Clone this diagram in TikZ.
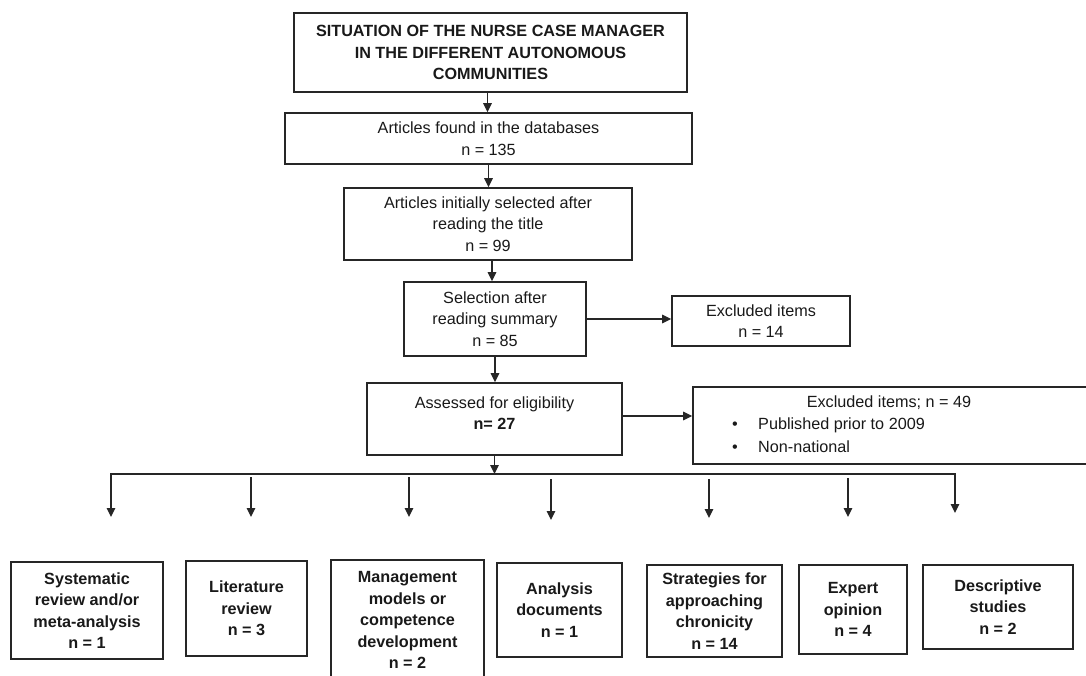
\documentclass[tikz,border=0pt]{standalone}
\usepackage{fontspec}
\setmainfont{Liberation Sans}
\usetikzlibrary{arrows.meta}
\begin{document}
\begin{tikzpicture}[x=1pt,y=-1pt,
  box/.style={draw=black!85, line width=1.6pt, align=center, inner sep=0pt,
    font=\fontsize{16.2}{21.5}\selectfont, text=black!90},
  bbox/.style={box, font=\fontsize{16.2}{21.5}\selectfont\bfseries},
  txt/.style={align=center, inner sep=0pt, font=\fontsize{16.2}{21.5}\selectfont, text=black!90},
  ln/.style={draw=black!85, line width=1.4pt},
  tip/.tip={Triangle[length=9pt,width=8.5pt]},
  arr/.style={ln, -tip}]
\useasboundingbox (0,0) rectangle (1086,675);
\clip (0,0) rectangle (1086,675);

% main column
\node[bbox, minimum width=393pt, minimum height=79pt] (title) at (490.5,52.5)
  {SITUATION OF THE NURSE CASE MANAGER\\IN THE DIFFERENT AUTONOMOUS\\COMMUNITIES};
\node[box, minimum width=407pt, minimum height=51pt] (found) at (488.5,138.5)
  {Articles found in the databases\\n = 135};
\node[box, minimum width=288pt, minimum height=72pt] (initial) at (488,224)
  {Articles initially selected after\\reading the title\\n = 99};
\node[box, minimum width=182pt, minimum height=74pt] (sel) at (495,319)
  {Selection after\\reading summary\\n = 85};
\node[box, minimum width=178pt, minimum height=50pt] (ex14) at (761,321)
  {Excluded items\\n = 14};
\node[box, minimum width=255pt, minimum height=72pt] (assess) at (494.5,419) {};
\node[txt] (assesstxt) at (494.5,413) {Assessed for eligibility\\\textbf{n= 27}};
\node[box, minimum width=395pt, minimum height=77pt] (ex49) at (890.5,425.5) {};
\node[txt] (ex49title) at (889,403) {Excluded items; n = 49};
\node[txt, anchor=west] (ex49a) at (732,425) {\makebox[26pt][l]{\textbullet}Published prior to 2009};
\node[txt, anchor=west] (ex49b) at (732,447) {\makebox[26pt][l]{\textbullet}Non-national};

% bottom categories
\node[bbox, minimum width=152pt, minimum height=97pt] (b1) at (87,610.5)
  {Systematic\\review and/or\\meta-analysis\\n = 1};
\node[bbox, minimum width=121pt, minimum height=95pt] (b2) at (246.5,608.5)
  {Literature\\review\\n = 3};
\node[bbox, minimum width=153pt, minimum height=120pt] (b3) at (407.5,620)
  {Management\\models or\\competence\\development\\n = 2};
\node[bbox, minimum width=125pt, minimum height=94pt] (b4) at (559.5,610)
  {Analysis\\documents\\n = 1};
\node[bbox, minimum width=135pt, minimum height=92pt] (b5) at (714.5,611)
  {Strategies for\\approaching\\chronicity\\n = 14};
\node[bbox, minimum width=108pt, minimum height=89pt] (b6) at (853,609.5)
  {Expert\\opinion\\n = 4};
\node[bbox, minimum width=150pt, minimum height=84pt] (b7) at (998,607)
  {Descriptive\\studies\\n = 2};

% connectors in the main column
\draw[arr] (title.south) ++(-3,0) coordinate (s1) -- (s1 |- found.north);
\draw[arr] (found.south) -- (found.south |- initial.north);
\draw[arr] (initial.south -| sel.north) ++(-3,0) coordinate (s3) -- (s3 |- sel.north);
\draw[arr] (sel.south) -- (sel.south |- assess.north);
\draw[arr] (sel.east) -- (sel.east -| ex14.west);
\draw[arr] (assess.east) ++(0,-3) coordinate (s5) -- (s5 -| ex49.west);

% branching
\coordinate (jl) at (111,474);
\coordinate (jr) at (955,474);
\coordinate (e1) at (111,517);
\coordinate (e7) at (955,513);
\draw[arr] (assess.south) -- (assess.south |- jl);
\draw[ln, tip-tip] (e1) -- (jl) -- (jr) -- (e7);
\coordinate (s2) at (251,477); \coordinate (e2) at (251,517);
\coordinate (s3b) at (409,477); \coordinate (e3) at (409,517);
\coordinate (s4) at (551,479); \coordinate (e4) at (551,520);
\coordinate (s5b) at (709,479); \coordinate (e5) at (709,518);
\coordinate (s6) at (848,478); \coordinate (e6) at (848,517);
\draw[arr] (s2) -- (e2);
\draw[arr] (s3b) -- (e3);
\draw[arr] (s4) -- (e4);
\draw[arr] (s5b) -- (e5);
\draw[arr] (s6) -- (e6);
\end{tikzpicture}
\end{document}
